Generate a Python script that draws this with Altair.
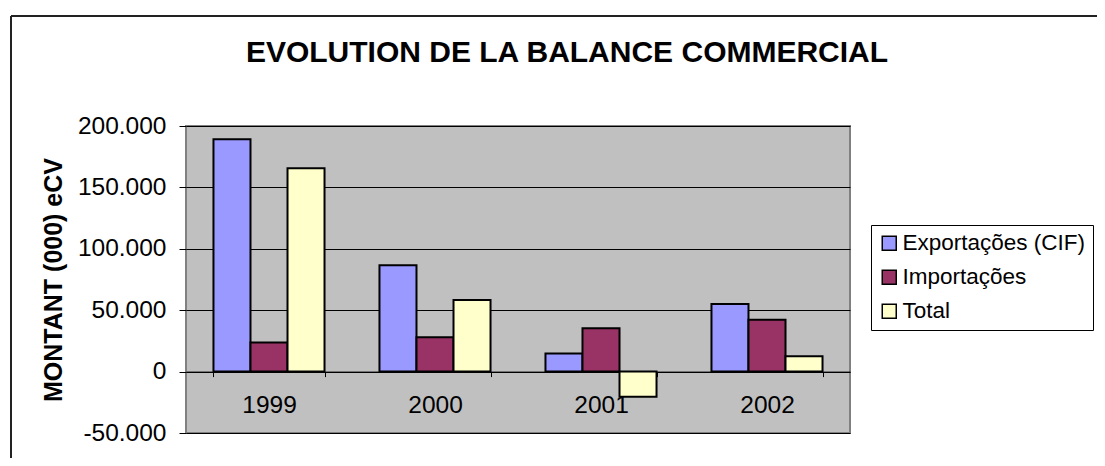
import altair as alt
import pandas as pd

years = ["1999", "2000", "2001", "2002"]
series = ["Exportações (CIF)", "Importações", "Total"]
exportacoes = [189200, 86600, 14700, 55100]
importacoes = [23600, 28000, 35300, 42300]
total = [165600, 58300, -20400, 12500]
colors = ["#9999FF", "#993366", "#FFFFCC"]
y_ticks = [-50000, 0, 50000, 100000, 150000, 200000]

rows = []
for i, yr in enumerate(years):
    for s, vals in zip(series, [exportacoes, importacoes, total]):
        rows.append({"Ano": yr, "Serie": s, "Valor": vals[i]})
df = pd.DataFrame(rows)

W, H = 664, 307
FONT = "Liberation Sans"

bars = alt.Chart(df).mark_bar(stroke="black", strokeWidth=2).encode(
    x=alt.X(
        "Ano:N", sort=years,
        scale=alt.Scale(paddingInner=0.331, paddingOuter=0.1655),
        axis=alt.Axis(
            title=None, labelAngle=0, offset=-61.4, tickBand="extent",
            domainColor="black", domainWidth=1, tickColor="black", tickSize=5,
            labelFontSize=24.5, labelPadding=17, labelFont=FONT, labelColor="black",
            grid=False,
        ),
    ),
    xOffset=alt.XOffset("Serie:N", sort=series,
                        scale=alt.Scale(paddingInner=0, paddingOuter=0)),
    y=alt.Y(
        "Valor:Q",
        scale=alt.Scale(domain=[-50000, 200000], nice=False, zero=False),
        axis=alt.Axis(
            values=y_ticks,
            labelExpr="replace(replace(format(datum.value, ','), ',', '.'), '\u2212', '-')",
            title="MONTANT (000) eCV", titleFontSize=25, titleFont=FONT,
            titleFontWeight="bold", titleColor="black",
            titleX=-133, titleY=153.5, titleAngle=270, titleAlign="center",
            titleBaseline="middle",
            labelFontSize=24.5, labelFont=FONT, labelColor="black", labelPadding=13,
            tickSize=7, tickColor="black", domain=False,
            grid=True, gridColor="black", gridWidth=1,
        ),
    ),
    color=alt.Color(
        "Serie:N", sort=series,
        scale=alt.Scale(domain=series, range=colors),
        legend=alt.Legend(
            title=None, orient="none", legendX=685, legendY=99,
            direction="vertical", symbolType="square", symbolSize=196,
            symbolStrokeColor="black", symbolStrokeWidth=1.5,
            labelFontSize=22.5, labelFont=FONT, labelColor="black",
            labelOffset=2, rowPadding=11, padding=7, labelLimit=400,
            strokeColor="black", fillColor="white", cornerRadius=0,
            symbolOpacity=1,
        ),
    ),
)

frame_df = pd.DataFrame({"k": [0]})
top_line = alt.Chart(frame_df).mark_rule(color="#222222", strokeWidth=2).encode(
    x=alt.value(-175), x2=alt.value(1000), y=alt.value(-110)
)
left_line = alt.Chart(frame_df).mark_rule(color="#222222", strokeWidth=2).encode(
    x=alt.value(-175), y=alt.value(-110), y2=alt.value(400)
)

chart = alt.layer(bars, top_line, left_line).properties(
    width=W, height=H,
    autosize="none",
    padding={"left": 178, "top": 118, "right": 247, "bottom": 25},
    title=alt.TitleParams(
        text="EVOLUTION DE LA BALANCE COMMERCIAL", fontSize=30, font=FONT,
        fontWeight="bold", color="black", anchor="middle", dx=49, offset=-53,
    ),
    background="white",
).configure_view(fill="#C0C0C0", stroke="#808080", strokeWidth=2)

chart.save("out.html", embed_options={"renderer": "svg", "actions": False})
